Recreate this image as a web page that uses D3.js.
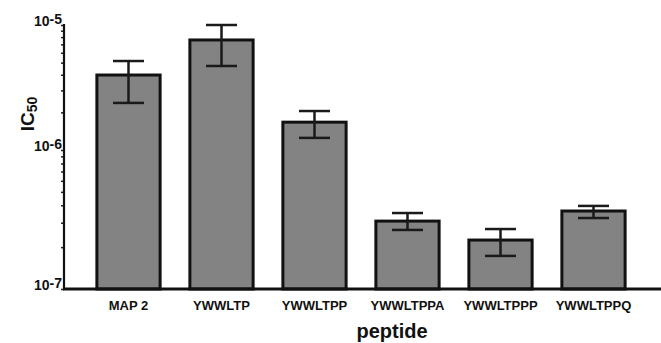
<!DOCTYPE html>
<html>
<head>
<meta charset="utf-8">
<script src="https://cdn.jsdelivr.net/npm/d3@7"></script>
<style>
  body { margin: 0; background: #fff; }
  text { font-family: "Liberation Sans", Arial, sans-serif; font-weight: bold; fill: #111; }
</style>
</head>
<body>
<div class="chart"></div>
<script>
// DATA ------------------------------
const peptides = ["MAP 2", "YWWLTP", "YWWLTPP", "YWWLTPPA", "YWWLTPPP", "YWWLTPPQ"];
const ic50 = [3.98e-6, 7.59e-6, 1.67e-6, 3.08e-7, 2.25e-7, 3.64e-7];
const errHigh = [5.15e-6, 1.0e-5, 2.05e-6, 3.52e-7, 2.70e-7, 3.96e-7];
const errLow = [2.38e-6, 4.70e-6, 1.25e-6, 2.66e-7, 1.73e-7, 3.24e-7];
const majorTicks = [1e-7, 1e-6, 1e-5];
const majorLabels = ["-7", "-6", "-5"];

// CHART INIT ------------------------
const W = 661, H = 343;
const svg = d3.select(".chart")
    .append("svg")
    .attr("width", W)
    .attr("height", H);

const xScale = d3.scaleBand()
    .domain(peptides)
    .range([82, 640])
    .paddingInner(0.32)
    .paddingOuter(0.16);

// log axis, decades drawn slightly unequal like the original figure
const yScale = d3.scaleLog()
    .domain([1e-7, 1e-6, 1e-5])
    .range([289, 150, 25]);

const data = peptides.map((p, i) => ({name: p, v: ic50[i], hi: errHigh[i], lo: errLow[i]}));
const axisX = 64;

// bars
svg.selectAll("rect.bar")
    .data(data)
    .enter()
    .append("rect")
    .attr("class", "bar")
    .attr("x", d => xScale(d.name))
    .attr("y", d => yScale(d.v))
    .attr("width", xScale.bandwidth())
    .attr("height", d => yScale(1e-7) - yScale(d.v))
    .attr("fill", "#838383")
    .attr("stroke", "#111")
    .attr("stroke-width", 3);

// error bars
const capW = 31;
const err = svg.selectAll("g.err")
    .data(data)
    .enter()
    .append("g")
    .attr("class", "err")
    .attr("stroke", "#1a1a1a")
    .attr("stroke-width", 2.5);
err.append("line")
    .attr("x1", d => xScale(d.name) + xScale.bandwidth() / 2)
    .attr("x2", d => xScale(d.name) + xScale.bandwidth() / 2)
    .attr("y1", d => yScale(d.hi))
    .attr("y2", d => yScale(d.lo));
err.append("line")
    .attr("x1", d => xScale(d.name) + xScale.bandwidth() / 2 - capW / 2)
    .attr("x2", d => xScale(d.name) + xScale.bandwidth() / 2 + capW / 2)
    .attr("y1", d => yScale(d.hi))
    .attr("y2", d => yScale(d.hi));
err.append("line")
    .attr("x1", d => xScale(d.name) + xScale.bandwidth() / 2 - capW / 2)
    .attr("x2", d => xScale(d.name) + xScale.bandwidth() / 2 + capW / 2)
    .attr("y1", d => yScale(d.lo))
    .attr("y2", d => yScale(d.lo));

// y axis (minor ticks from the log scale)
const yAxis = d3.axisLeft(yScale)
    .tickValues(yScale.ticks())
    .tickSize(3)
    .tickFormat("");
const gy = svg.append("g")
    .attr("class", "axis y-axis")
    .attr("transform", `translate(${axisX},0)`)
    .call(yAxis);
gy.select(".domain").remove();
gy.selectAll(".tick line").attr("stroke", "#222").attr("stroke-width", 1.5);
gy.append("line")
    .attr("x1", 0).attr("x2", 0)
    .attr("y1", yScale(1e-5) - 1).attr("y2", yScale(1e-7))
    .attr("stroke", "#111").attr("stroke-width", 2.2);

// major labels 10^n
const lab = svg.selectAll("text.ylab")
    .data(majorTicks)
    .enter()
    .append("text")
    .attr("class", "ylab")
    .attr("x", axisX - 2)
    .attr("y", d => yScale(d) + 1)
    .attr("text-anchor", "end")
    .attr("font-size", "14px");
lab.append("tspan").text("10");
lab.append("tspan").attr("dy", -2).text((d, i) => majorLabels[i]);

// x axis
const xAxis = d3.axisBottom(xScale).tickSize(0).tickPadding(12);
const gx = svg.append("g")
    .attr("class", "axis x-axis")
    .attr("transform", `translate(0,${yScale(1e-7)})`)
    .call(xAxis);
gx.select(".domain").remove();
gx.selectAll(".tick text")
    .attr("font-size", "13px")
    .attr("font-family", "Liberation Sans, Arial, sans-serif")
    .attr("font-weight", "bold")
    .attr("fill", "#111");
gx.append("line")
    .attr("x1", axisX - 1).attr("x2", W)
    .attr("y1", 0).attr("y2", 0)
    .attr("stroke", "#111").attr("stroke-width", 3);

// axis titles
svg.append("text")
    .attr("x", 392)
    .attr("y", 338)
    .attr("text-anchor", "middle")
    .attr("font-size", "20px")
    .text("peptide");

const yt = svg.append("text")
    .attr("transform", "translate(34,114) rotate(-90)")
    .attr("text-anchor", "middle")
    .attr("font-size", "19px");
yt.append("tspan").text("IC");
yt.append("tspan").attr("font-size", "14px").attr("dy", 3).text("50");
</script>
</body>
</html>
